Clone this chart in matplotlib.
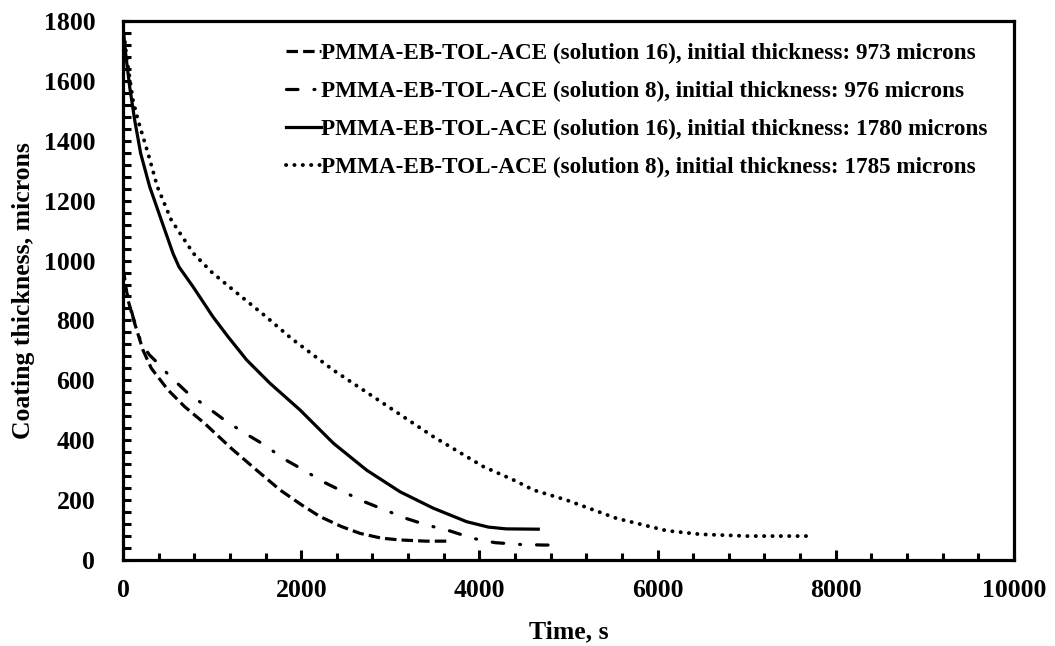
import matplotlib
matplotlib.use("Agg")
import matplotlib.pyplot as plt
from matplotlib.ticker import MultipleLocator

plt.rcParams['font.family'] = ['Liberation Serif', 'DejaVu Serif']
plt.rcParams['font.weight'] = 'bold'

# Coating thickness (microns) vs drying time (s)
t_s16_973 = [0, 56, 131, 224, 318, 505, 692, 917, 1215, 1500, 1762, 2000, 2211,
             2450, 2660, 2900, 3109, 3400, 3670]
h_s16_973 = [973, 868, 790, 701, 640, 568, 512, 456, 373, 300, 234, 185, 145,
             112, 89, 73, 67, 63, 63]

t_s8_976 = [0, 37, 112, 205, 299, 393, 524, 729, 924, 1141, 1358, 1590, 1792, 2024,
            2241, 2473, 2705, 2941, 3176, 3408, 3670, 3932, 4175, 4456, 4717, 4942]
h_s8_976 = [976, 902, 812, 724, 684, 657, 614, 557, 515, 467, 425, 384, 340, 301,
            262, 228, 195, 167, 139, 117, 97, 72, 58, 52, 50, 50]

t_s16_1780 = [0, 30, 75, 131, 198, 299, 430, 561, 628, 785, 1010, 1178, 1388, 1650,
              1987, 2361, 2735, 3109, 3483, 3857, 4100, 4300, 4661]
h_s16_1780 = [1780, 1690, 1580, 1469, 1358, 1247, 1135, 1024, 979, 913, 812, 746, 668,
              590, 501, 390, 300, 228, 173, 128, 110, 104, 103]

t_s8_1785 = [0, 40, 112, 168, 281, 385, 542, 790, 1000, 1215, 1608, 1889, 2361, 2922,
             3483, 4044, 4400, 4605, 4980, 5541, 6102, 6476, 7000, 7673]
h_s8_1785 = [1785, 1680, 1535, 1469, 1358, 1247, 1135, 1024, 960, 907, 812, 740, 634,
             523, 412, 312, 265, 234, 200, 139, 98, 86, 80, 80]

labels = [
    "PMMA-EB-TOL-ACE (solution 16), initial thickness: 973 microns",
    "PMMA-EB-TOL-ACE (solution 8), initial thickness: 976 microns",
    "PMMA-EB-TOL-ACE (solution 16), initial thickness: 1780 microns",
    "PMMA-EB-TOL-ACE (solution 8), initial thickness: 1785 microns",
]

fig = plt.figure(figsize=(10.55, 6.46), dpi=100)
ax = fig.add_axes([0.1166, 0.1331, 0.8445, 0.8344])

lw = 2.3
ax.plot(t_s16_973, h_s16_973, color='black', lw=lw, linestyle=(0, (3.6, 1.6)),
        label=labels[0])
ax.plot(t_s8_976, h_s8_976, color='black', lw=lw, linestyle=(0, (3.6, 5.0, 0.3, 5.0)),
        dash_capstyle='round', label=labels[1])
ax.plot(t_s16_1780, h_s16_1780, color='black', lw=lw, linestyle='-',
        solid_joinstyle='round', label=labels[2])
ax.plot(t_s8_1785, h_s8_1785, color='black', lw=2.8, linestyle=(0, (0.05, 2.1)),
        dash_capstyle='round', label=labels[3])

ax.set_xlim(0, 10000)
ax.set_ylim(0, 1800)
ax.xaxis.set_major_locator(MultipleLocator(2000))
ax.xaxis.set_minor_locator(MultipleLocator(400))
ax.yaxis.set_major_locator(MultipleLocator(200))
ax.yaxis.set_minor_locator(MultipleLocator(40))

for s in ax.spines.values():
    s.set_linewidth(2.3)

ax.tick_params(axis='both', which='both', direction='in', top=False, right=False,
               width=2.2, labelsize=18.5)
ax.tick_params(axis='x', which='major', length=7, pad=14)
ax.tick_params(axis='x', which='minor', length=5)
ax.tick_params(axis='y', which='major', length=6, pad=20)
ax.tick_params(axis='y', which='minor', length=6)

ax.set_xlabel("Time, s", fontsize=18.5, fontweight='bold', labelpad=13)
ax.set_ylabel("Coating thickness, microns", fontsize=18.5, fontweight='bold', labelpad=6)

leg = ax.legend(loc='upper right', bbox_to_anchor=(0.986, 0.985), frameon=False,
                fontsize=16.7, handlelength=1.5, handletextpad=0.0, labelspacing=0.72,
                borderaxespad=0.2)

fig.savefig("out.png", dpi=100)
